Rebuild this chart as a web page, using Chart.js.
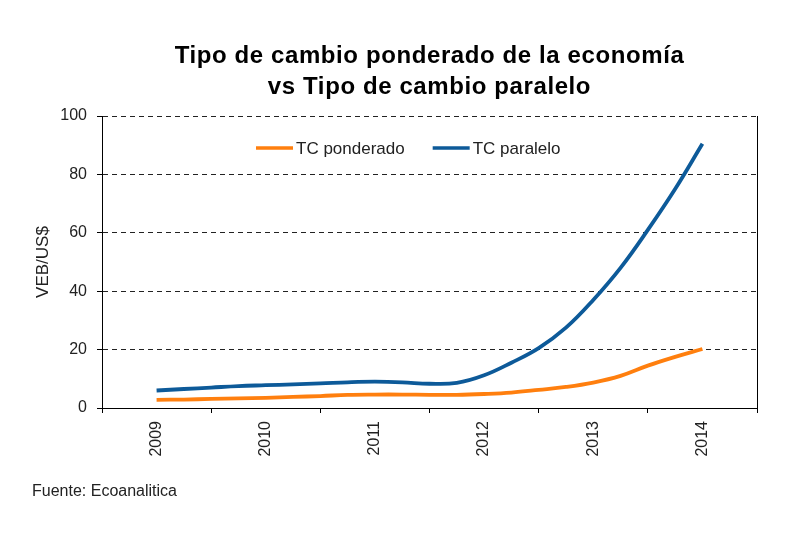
<!DOCTYPE html>
<html>
<head>
<meta charset="utf-8">
<script src="https://cdn.jsdelivr.net/npm/chart.js@4.4.0/dist/chart.umd.min.js"></script>
<style>
  html, body { margin: 0; padding: 0; background: #fff; }
  #wrap { width: 800px; height: 533px; position: relative; }
</style>
</head>
<body>
<div id="wrap"><canvas id="chart"></canvas></div>
<script>
// years shown on the axis, quarterly positions of the data points
const years = [2009, 2010, 2011, 2012, 2013, 2014];
const periods = [2009, 2009.25, 2009.5, 2009.75, 2010, 2010.25, 2010.5, 2010.75,
                 2011, 2011.25, 2011.5, 2011.75, 2012, 2012.25, 2012.5, 2012.75,
                 2013, 2013.25, 2013.5, 2013.75, 2014];
// VEB/US$
const tcPonderado = [2.8, 2.9, 3.1, 3.3, 3.5, 3.8, 4.1, 4.5,
                     4.6, 4.6, 4.5, 4.5, 4.8, 5.3, 6.2, 7.2,
                     8.7, 11, 14.5, 17.5, 20.2];
const tcParalelo = [6.0, 6.5, 7.0, 7.5, 7.8, 8.1, 8.4, 8.8,
                    9.0, 8.8, 8.3, 8.6, 11.2, 15.5, 20.5, 27.5,
                    37, 48, 61, 75, 90.5];
const yTicks = [0, 20, 40, 60, 80, 100];
const titleLines = ['Tipo de cambio ponderado de la economía', 'vs Tipo de cambio paralelo'];
const source = 'Fuente: Ecoanalitica';

const FONT = '"Liberation Sans", Arial, sans-serif';
const ORANGE = '#ff7f0e';
const BLUE = '#0d5a99';

// title centred over the plot, legend inside the plot, source line
const textPlugin = {
    id: 'texts',
    afterDraw(chart) {
        const { ctx, chartArea } = chart;
        const cx = (chartArea.left + chartArea.right) / 2;
        ctx.save();
        ctx.fillStyle = '#000';
        ctx.textAlign = 'center';
        ctx.textBaseline = 'alphabetic';
        ctx.font = 'bold 24px ' + FONT;
        ctx.letterSpacing = '0.6px';
        ctx.fillText(titleLines[0], cx, 63);
        ctx.fillText(titleLines[1], cx, 94);
        ctx.letterSpacing = '0px';

        // legend, one row
        ctx.font = '17px ' + FONT;
        ctx.textAlign = 'left';
        ctx.textBaseline = 'middle';
        let x = 256;
        const y = 148;
        chart.data.datasets.forEach(ds => {
            ctx.strokeStyle = ds.borderColor;
            ctx.lineWidth = 3.5;
            ctx.beginPath();
            ctx.moveTo(x, y);
            ctx.lineTo(x + 37, y);
            ctx.stroke();
            ctx.fillStyle = '#222';
            ctx.fillText(ds.label, x + 40, y + 1);
            x += 40 + ctx.measureText(ds.label).width + 28;
        });

        ctx.textBaseline = 'alphabetic';
        ctx.font = '16px ' + FONT;
        ctx.fillStyle = '#222';
        ctx.fillText(source, 32, 496);
        ctx.restore();
    }
};

const toPoints = (vals) => periods.map((p, i) => ({ x: p, y: vals[i] }));

new Chart(document.getElementById('chart'), {
    type: 'line',
    data: {
        datasets: [{
            label: 'TC ponderado',
            data: toPoints(tcPonderado),
            borderColor: ORANGE,
            backgroundColor: ORANGE,
            borderWidth: 3.8,
            pointRadius: 0,
            tension: 0.4
        }, {
            label: 'TC paralelo',
            data: toPoints(tcParalelo),
            borderColor: BLUE,
            backgroundColor: BLUE,
            borderWidth: 3.8,
            pointRadius: 0,
            tension: 0.4
        }]
    },
    options: {
        responsive: true,
        maintainAspectRatio: false,
        animation: false,
        layout: { padding: { top: 116, right: 43, bottom: 65, left: 0 } },
        scales: {
            x: {
                type: 'linear',
                min: years[0] - 0.5,
                max: years[years.length - 1] + 0.5,
                afterBuildTicks: (scale) => {
                    const t = [];
                    years.forEach(y => { t.push({ value: y - 0.5 }); t.push({ value: y }); });
                    t.push({ value: years[years.length - 1] + 0.5 });
                    scale.ticks = t;
                },
                afterFit: (scale) => { scale.height = 60; },
                ticks: {
                    autoSkip: false,
                    minRotation: 90,
                    maxRotation: 90,
                    padding: 8,
                    color: '#222',
                    font: { family: FONT, size: 16 },
                    callback: (v) => years.includes(v) ? String(v) : ''
                },
                grid: {
                    drawOnChartArea: false,
                    tickLength: 5,
                    color: (ctx) => (ctx.tick && Number.isInteger(ctx.tick.value)) ? 'rgba(0,0,0,0)' : '#000'
                },
                border: { color: '#000', width: 1 }
            },
            y: {
                min: 0,
                max: 100,
                afterBuildTicks: (scale) => { scale.ticks = yTicks.map(v => ({ value: v })); },
                afterFit: (scale) => { scale.width = 102; },
                ticks: {
                    padding: 10,
                    color: '#222',
                    font: { family: FONT, size: 16 }
                },
                grid: {
                    color: '#222',
                    tickColor: '#000',
                    tickLength: 5,
                    lineWidth: 1
                },
                border: { color: '#000', width: 1, dash: [5, 4] },
                title: {
                    display: true,
                    text: 'VEB/US$',
                    color: '#222',
                    font: { family: FONT, size: 17 },
                    padding: { top: 33, bottom: 0 }
                }
            },
            y2: {
                position: 'right',
                min: 0,
                max: 100,
                afterFit: (scale) => { scale.width = 0; },
                ticks: { display: false },
                grid: { drawOnChartArea: false, drawTicks: false },
                border: { color: '#000', width: 1 }
            }
        },
        plugins: {
            legend: { display: false },
            title: { display: false },
            tooltip: { enabled: false }
        }
    },
    plugins: [textPlugin]
});
</script>
</body>
</html>
